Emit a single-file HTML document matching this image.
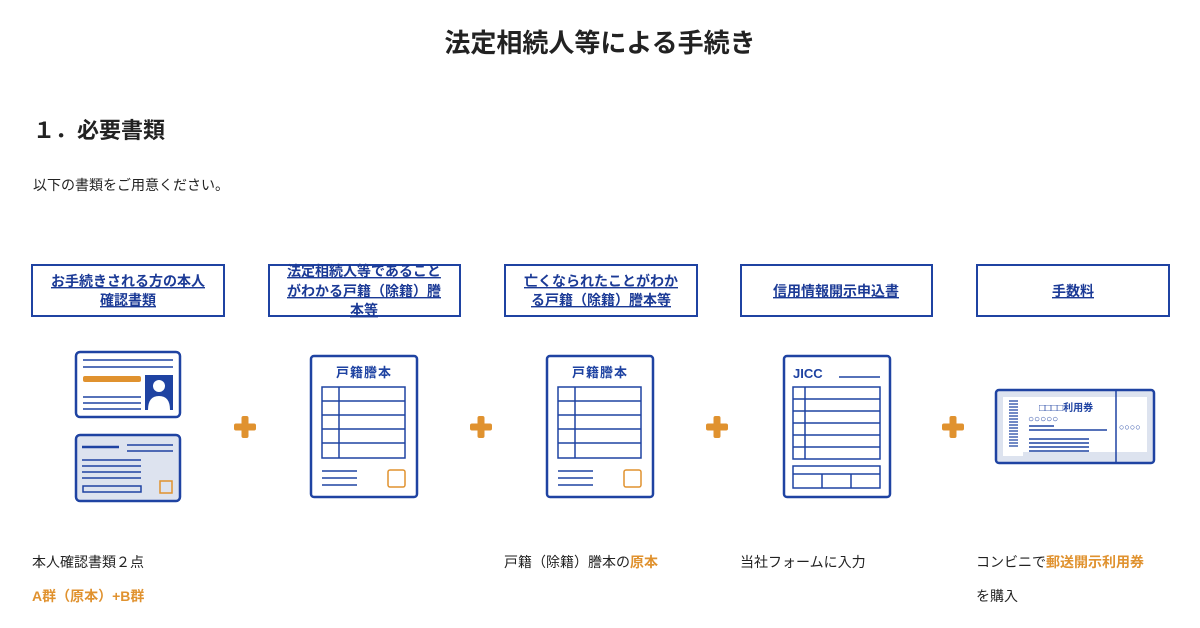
<!DOCTYPE html>
<html><head><meta charset="utf-8"><style>
body{margin:0;background:#fff;width:1200px;height:628px;overflow:hidden}
svg{display:block}
text{font-family:"Liberation Sans","Noto Sans CJK JP",sans-serif}
</style></head><body>
<svg width="1200" height="628" viewBox="0 0 1200 628">
<defs>
<g id="plus"><rect x="-11" y="-3.5" width="22" height="7" rx="2" fill="#e0922f"/><rect x="-3.5" y="-11" width="7" height="22" rx="2" fill="#e0922f"/></g>
</defs>
<text x="600" y="52" text-anchor="middle" font-size="26" font-weight="bold" fill="#222">法定相続人等による手続き</text>
<text x="33" y="138" font-size="22" font-weight="bold" fill="#222">１．必要書類</text>
<text x="33" y="190" font-size="14" fill="#222">以下の書類をご用意ください。</text>

<g fill="none" stroke="#1f43a2" stroke-width="2">
<rect x="32" y="265" width="192" height="51"/>
<rect x="269" y="265" width="191" height="51"/>
<rect x="505" y="265" width="192" height="51"/>
<rect x="741" y="265" width="191" height="51"/>
<rect x="977" y="265" width="192" height="51"/>
</g>
<g font-size="14" font-weight="bold" fill="#1b3a96" text-anchor="middle" text-decoration="underline">
<text x="128" y="286">お手続きされる方の本人</text>
<text x="128" y="305">確認書類</text>
<text x="364" y="276">法定相続人等であること</text>
<text x="364" y="296">がわかる戸籍（除籍）謄</text>
<text x="364" y="315">本等</text>
<text x="601" y="286">亡くなられたことがわか</text>
<text x="601" y="305">る戸籍（除籍）謄本等</text>
<text x="836" y="296">信用情報開示申込書</text>
<text x="1073" y="296">手数料</text>
</g>

<!-- ID cards -->
<g stroke="#1f43a2" fill="none">
<rect x="76" y="352" width="104" height="65" rx="4" stroke-width="2.5"/>
<line x1="83" y1="360" x2="173" y2="360" stroke-width="1.5"/>
<line x1="83" y1="367" x2="173" y2="367" stroke-width="1.5"/>
<line x1="83" y1="397" x2="141" y2="397" stroke-width="1.5"/>
<line x1="83" y1="403" x2="141" y2="403" stroke-width="1.5"/>
<line x1="83" y1="409" x2="141" y2="409" stroke-width="1.5"/>
<rect x="76" y="435" width="104" height="66" rx="4" stroke-width="2.5" fill="#dde3ef"/>
<line x1="82" y1="447" x2="119" y2="447" stroke-width="2.5"/>
<line x1="127" y1="445" x2="173" y2="445" stroke-width="1.5"/>
<line x1="127" y1="451" x2="173" y2="451" stroke-width="1.5"/>
<line x1="82" y1="460" x2="141" y2="460" stroke-width="1.5"/>
<line x1="82" y1="466" x2="141" y2="466" stroke-width="1.5"/>
<line x1="82" y1="472" x2="141" y2="472" stroke-width="1.5"/>
<line x1="82" y1="478" x2="141" y2="478" stroke-width="1.5"/>
<rect x="83" y="486" width="58" height="6" stroke-width="1.5"/>
</g>
<rect x="83" y="376" width="58" height="6" rx="2" fill="#e0922f"/>
<rect x="145" y="375" width="28" height="35" fill="#1f43a2"/>
<circle cx="159" cy="386" r="6" fill="#fff"/>
<path d="M148 410 Q148 396 159 396 Q170 396 170 410Z" fill="#fff"/>
<rect x="160" y="481" width="12" height="12" fill="none" stroke="#e0922f" stroke-width="1.5"/>

<!-- koseki docs -->
<g id="koseki">
<rect x="311" y="356" width="106" height="141" rx="3" fill="none" stroke="#1f43a2" stroke-width="2.5"/>
<text x="364" y="377" text-anchor="middle" font-size="13" font-weight="bold" fill="#1f43a2" letter-spacing="1">戸籍謄本</text>
<g stroke="#1f43a2" stroke-width="1.5" fill="none">
<rect x="322" y="387" width="83" height="71"/>
<line x1="322" y1="401" x2="405" y2="401"/><line x1="322" y1="415" x2="405" y2="415"/>
<line x1="322" y1="429" x2="405" y2="429"/><line x1="322" y1="443" x2="405" y2="443"/>
<line x1="339" y1="387" x2="339" y2="458"/>
<line x1="322" y1="471" x2="357" y2="471"/><line x1="322" y1="478" x2="357" y2="478"/><line x1="322" y1="485" x2="357" y2="485"/>
</g>
<rect x="388" y="470" width="17" height="17" rx="2" fill="none" stroke="#e0922f" stroke-width="1.5"/>
</g>
<use href="#koseki" x="236"/>

<!-- JICC -->
<rect x="784" y="356" width="106" height="141" rx="3" fill="none" stroke="#1f43a2" stroke-width="2.5"/>
<text x="793" y="378" font-size="13" font-weight="bold" fill="#1f43a2">JICC</text>
<g stroke="#1f43a2" stroke-width="1.5" fill="none">
<line x1="839" y1="377" x2="880" y2="377"/>
<rect x="793" y="387" width="87" height="72"/>
<line x1="793" y1="399" x2="880" y2="399"/><line x1="793" y1="411" x2="880" y2="411"/>
<line x1="793" y1="423" x2="880" y2="423"/><line x1="793" y1="435" x2="880" y2="435"/><line x1="793" y1="447" x2="880" y2="447"/>
<line x1="805" y1="387" x2="805" y2="459"/>
<rect x="793" y="466" width="87" height="22"/>
<line x1="793" y1="474" x2="880" y2="474"/>
<line x1="822" y1="474" x2="822" y2="488"/><line x1="851" y1="474" x2="851" y2="488"/>
</g>

<!-- ticket -->
<rect x="996" y="390" width="158" height="73" rx="3" fill="#dde3ef" stroke="#1f43a2" stroke-width="2.5"/>
<rect x="1003" y="397" width="20" height="59" fill="#fff"/>
<rect x="1023" y="397" width="95" height="55" fill="#fff"/>
<rect x="1118" y="397" width="29" height="55" fill="#fff"/>
<line x1="1116" y1="390" x2="1116" y2="463" stroke="#1f43a2" stroke-width="1.5"/>
<g stroke="#1f43a2" stroke-width="1.5">
<path d="M1009 401h9M1009 404h9M1009 407h9M1009 410h9M1009 413h9M1009 416h9M1009 419h9M1009 422h9M1009 425h9M1009 428h9M1009 431h9M1009 434h9M1009 437h9M1009 440h9M1009 443h9M1009 446h9" stroke-width="1.2"/>
<line x1="1029" y1="426" x2="1054" y2="426"/>
<line x1="1029" y1="430" x2="1107" y2="430"/>
<line x1="1029" y1="439" x2="1089" y2="439"/><line x1="1029" y1="443" x2="1089" y2="443"/>
<line x1="1029" y1="447" x2="1089" y2="447"/><line x1="1029" y1="451" x2="1089" y2="451"/>
</g>
<text x="1039" y="411" font-size="10" font-weight="bold" fill="#1f43a2">□□□□利用券</text>
<text x="1028" y="422" font-size="10" fill="#1f43a2">○○○○○</text>
<text x="1119" y="430" font-size="9" fill="#1f43a2">○○○○</text>

<use href="#plus" x="245" y="427"/>
<use href="#plus" x="481" y="427"/>
<use href="#plus" x="717" y="427"/>
<use href="#plus" x="953" y="427"/>

<g font-size="14" fill="#222">
<text x="32" y="567">本人確認書類２点</text>
<text x="32" y="601" fill="#e0922f" font-weight="bold">A群（原本）+B群</text>
<text x="504" y="567">戸籍（除籍）謄本の<tspan fill="#e0922f" font-weight="bold">原本</tspan></text>
<text x="740" y="567">当社フォームに入力</text>
<text x="976" y="567">コンビニで<tspan fill="#e0922f" font-weight="bold">郵送開示利用券</tspan></text>
<text x="976" y="601">を購入</text>
</g>
</svg>
</body></html>
